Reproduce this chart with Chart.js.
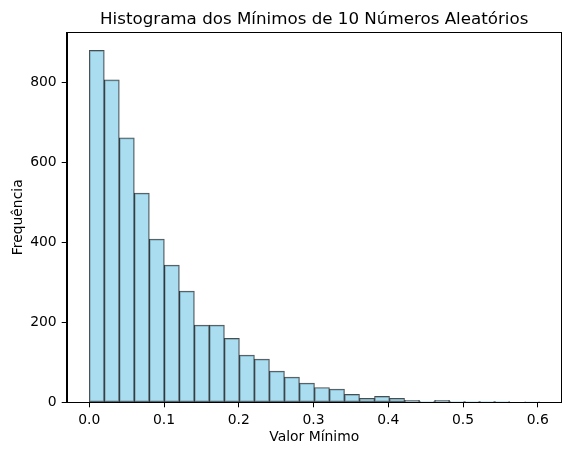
<!DOCTYPE html>
<html>
<head>
<meta charset="utf-8">
<script src="https://cdn.jsdelivr.net/npm/chart.js@4/dist/chart.umd.min.js"></script>
<style>
html,body{margin:0;padding:0;background:#fff;}
#wrap{width:572px;height:455px;}
</style>
</head>
<body>
<div id="wrap"><canvas id="c" width="572" height="455"></canvas></div>
<script>
const titleText = "Histograma dos Mínimos de 10 Números Aleatórios";
const xLabel = "Valor Mínimo";
const yLabel = "Frequência";
const binLow = 0.0;
const binHigh = 0.6025;
const binCount = 30;
const counts = [880, 806, 661, 523, 408, 343, 278, 193, 193, 160,
                118, 108, 78, 63, 48, 37, 33, 20, 10, 15,
                10, 5, 2, 5, 2, 2, 2, 2, 0, 1];
const xTicks = [0.0, 0.1, 0.2, 0.3, 0.4, 0.5, 0.6];
const yTicks = [0, 200, 400, 600, 800];
const xRange = [-0.0302, 0.632];
const yRange = [0, 925];

const binWidth = (binHigh - binLow) / binCount;
const points = counts.map((c, i) => ({x: binLow + binWidth * (i + 0.5), y: c}));

const FONT = "'DejaVu Sans', sans-serif";

const framePlugin = {
  id: 'frame',
  afterDraw(chart) {
    const {ctx, chartArea: a} = chart;
    ctx.save();
    ctx.strokeStyle = '#000';
    ctx.lineWidth = 1;
    ctx.strokeRect(Math.round(a.left) + 0.5, Math.round(a.top) + 0.5,
                   Math.round(a.right - a.left) - 1, Math.round(a.bottom - a.top));
    ctx.fillStyle = '#000';
    ctx.font = "16.7px " + FONT;
    ctx.textAlign = 'center';
    ctx.textBaseline = 'alphabetic';
    ctx.fillText(titleText, (a.left + a.right) / 2, a.top - 8.3);
    ctx.restore();
  }
};

new Chart(document.getElementById('c'), {
  type: 'bar',
  data: {
    datasets: [{
      data: points,
      backgroundColor: 'rgba(135,206,235,0.7)',
      borderColor: 'rgba(0,0,0,0.7)',
      borderWidth: 1,
      borderSkipped: false,
      barPercentage: 1,
      categoryPercentage: 1,
      grouped: false
    }]
  },
  options: {
    responsive: false,
    animation: false,
    layout: {padding: {top: 32.3, right: 10.3, left: 0, bottom: 0}},
    plugins: {legend: {display: false}, tooltip: {enabled: false}, title: {display: false}},
    scales: {
      x: {
        type: 'linear',
        offset: false,
        min: xRange[0], max: xRange[1],
        afterFit(s) { s.height = 52.7; },
        afterBuildTicks(s) { s.ticks = xTicks.map(v => ({value: v})); },
        grid: {display: true, offset: false, drawOnChartArea: false, drawTicks: true, tickLength: 5, color: '#000', lineWidth: 1},
        border: {display: true, color: '#000', width: 1},
        ticks: {color: '#000', font: {family: FONT, size: 13.9}, padding: 5, maxRotation: 0,
                callback: v => Number(v).toFixed(1)},
        title: {display: true, text: xLabel, color: '#000', font: {family: FONT, size: 13.9}, padding: {top: 0, bottom: 9}}
      },
      y: {
        type: 'linear',
        min: yRange[0], max: yRange[1],
        afterFit(s) { s.width = 66.7; },
        afterBuildTicks(s) { s.ticks = yTicks.map(v => ({value: v})); },
        grid: {display: true, drawOnChartArea: false, drawTicks: true, tickLength: 5, color: '#000', lineWidth: 1},
        border: {display: true, color: '#000', width: 1},
        ticks: {color: '#000', font: {family: FONT, size: 13.9}, padding: 5,
                callback: v => String(v)},
        title: {display: true, text: yLabel, color: '#000', font: {family: FONT, size: 13.9}, padding: {top: 10, bottom: 0}}
      }
    }
  },
  plugins: [framePlugin]
});
</script>
</body>
</html>
